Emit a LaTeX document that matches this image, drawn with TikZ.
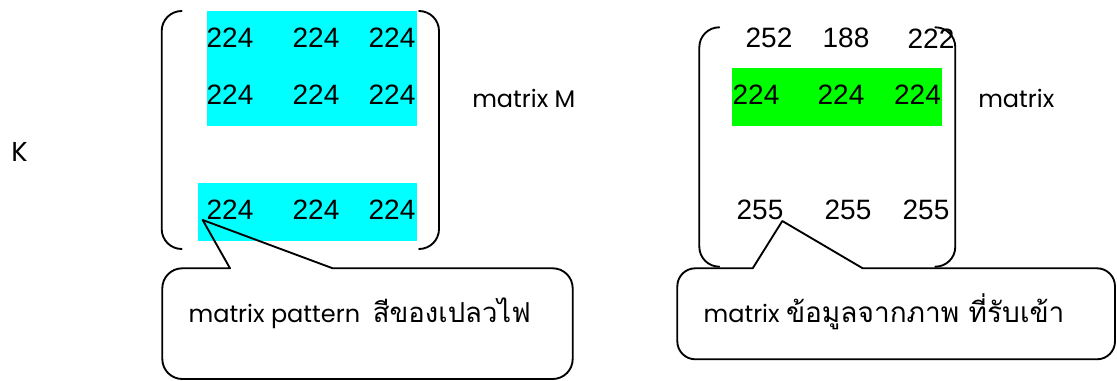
\documentclass[tikz,border=0pt]{standalone}
\usepackage{fontspec}
\setmainfont{Liberation Sans}
\newfontfamily\thaifont[Script=Thai]{Loma}
\newfontfamily\latfont{Poppins}
\definecolor{aqua}{RGB}{0,255,255}
\definecolor{lime}{RGB}{0,255,0}
\begin{document}
\begin{tikzpicture}[x=0.75pt,y=0.75pt,
  num/.style={font=\fontsize{21}{21}\selectfont, inner sep=0pt, anchor=center},
  lbl/.style={font=\latfont\fontsize{18}{18}\selectfont, inner sep=0pt, anchor=west},
  brk/.style={line width=1.4pt, line cap=round},
  callout/.style={line width=1.4pt, line join=round}]
\useasboundingbox (0,0) rectangle (1117,-381);
% highlight fills
\fill[aqua] (206.7,-11) rectangle (417.3,-125.7);
\fill[aqua] (197.7,-183) rectangle (417.3,-240.7);
\fill[lime] (731.7,-68.3) rectangle (942.3,-126);
% left matrix numbers
\node[num] (a11) at (230,-38) {224};
\node[num] (a12) at (316,-38) {224};
\node[num] (a13) at (392,-38) {224};
\node[num] (a21) at (230,-95) {224};
\node[num] (a22) at (316,-95) {224};
\node[num] (a23) at (392,-95) {224};
\node[num] (a31) at (230,-210) {224};
\node[num] (a32) at (316,-210) {224};
\node[num] (a33) at (392,-210) {224};
% right matrix numbers
\node[num] (b11) at (769,-38.3) {252};
\node[num] (b12) at (846,-38.3) {188};
\node[num] (b13) at (931,-38.3) {222};
\node[num] (b21) at (756,-95) {224};
\node[num] (b22) at (841,-95) {224};
\node[num] (b23) at (917.5,-95) {224};
\node[num] (b31) at (760,-210) {255};
\node[num] (b32) at (848,-210) {255};
\node[num] (b33) at (926,-210) {255};
% brackets left matrix
\draw[brk] (181.7,-11) arc[start angle=90,end angle=180,radius=20] -- (161.7,-229) arc[start angle=180,end angle=270,radius=20];
\draw[brk] (419,-11) arc[start angle=90,end angle=0,radius=20] -- (439,-229) arc[start angle=0,end angle=-90,radius=20];
% brackets right matrix
\draw[brk] (719.3,-27.3) arc[start angle=90,end angle=180,radius=20] -- (699.3,-246.7) arc[start angle=180,end angle=270,radius=20];
\draw[brk] (935.3,-27.3) arc[start angle=90,end angle=0,radius=20] -- (955.3,-246.7) arc[start angle=0,end angle=-90,radius=20];
% labels
\node[lbl, font=\latfont\fontsize{20.5}{20.5}\selectfont] (k) at (11,-152) {K};
\node[lbl] (mm) at (472,-98) {matrix M};
\node[lbl] (mx) at (978,-98) {matrix};
% callouts
\coordinate (tipL) at (202.7,-220);
\coordinate (tipR) at (782.3,-221);
\draw[callout] (230,-268.3) -- (tipL) -- (332.7,-268.3) -- (552.7,-268.3)
  arc[start angle=90,end angle=0,radius=20] -- (572.7,-359)
  arc[start angle=0,end angle=-90,radius=20] -- (182.3,-379)
  arc[start angle=270,end angle=180,radius=20] -- (162.3,-288.3)
  arc[start angle=180,end angle=90,radius=20] -- cycle;
\draw[callout] (752.7,-268.3) -- (tipR) -- (862.7,-268.3) -- (1097,-268.3)
  arc[start angle=90,end angle=0,radius=18] -- (1115,-341.3)
  arc[start angle=0,end angle=-90,radius=18] -- (695.3,-359.3)
  arc[start angle=270,end angle=180,radius=18] -- (677.3,-286.3)
  arc[start angle=180,end angle=90,radius=18] -- cycle;
\node[lbl] (cl) at (188.3,-313) {matrix pattern\ \ {\thaifont\fontsize{20.6}{20.6}\selectfont สีของเปลวไฟ}};
\node[lbl] (cr) at (703.3,-311.7) {matrix {\thaifont\fontsize{21}{21}\selectfont ข้อมูลจากภาพ ที่รับเข้า}};
\end{tikzpicture}
\end{document}
